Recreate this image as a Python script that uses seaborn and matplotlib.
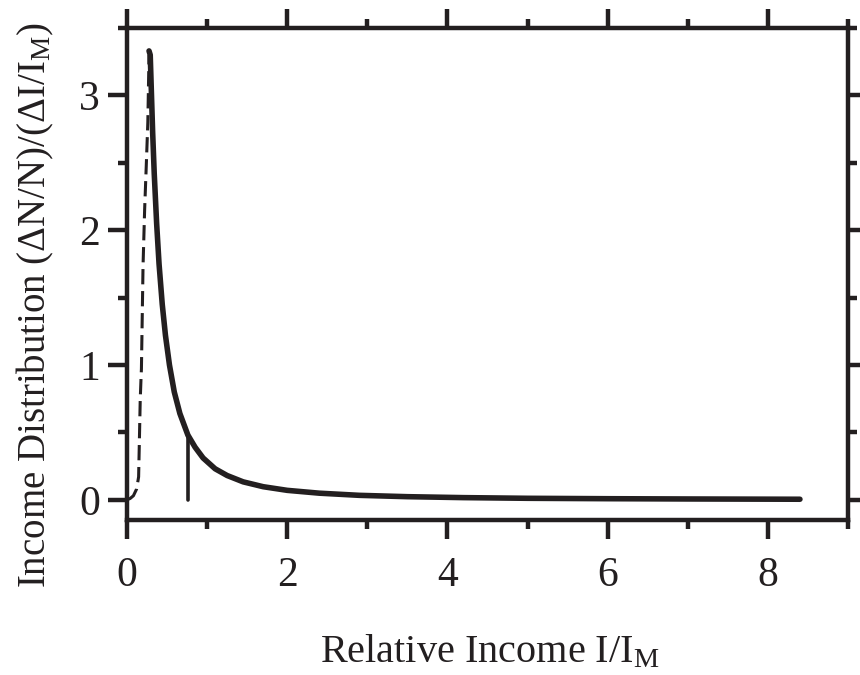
import matplotlib
matplotlib.use("Agg")
import matplotlib.pyplot as plt
from matplotlib.ticker import MultipleLocator
import seaborn as sns
import pandas as pd

# Pareto-like tail (solid)
tail_x = [0.275, 0.29, 0.30, 0.32, 0.34, 0.37, 0.40, 0.44, 0.48, 0.53, 0.59, 0.66, 0.76,
          0.85, 0.95, 1.10, 1.25, 1.45, 1.70, 2.00, 2.40, 2.90, 3.50, 4.20, 5.00, 6.00, 7.00, 8.40]
tail_y = [3.33, 3.30, 3.11, 2.73, 2.42, 2.05, 1.75, 1.45, 1.22, 1.00, 0.80, 0.64, 0.48,
          0.39, 0.31, 0.23, 0.18, 0.133, 0.097, 0.070, 0.049, 0.033, 0.023, 0.016, 0.011, 0.008, 0.006, 0.004]

# Rising low-income part (dashed)
rise_x = [0.00, 0.04, 0.08, 0.12, 0.145, 0.155, 0.165, 0.175, 0.18, 0.20, 0.22, 0.24, 0.26, 0.275]
rise_y = [0.00, 0.01, 0.03, 0.08, 0.17, 0.45, 0.74, 0.90, 0.97, 1.73, 2.15, 2.47, 2.80, 3.30]

# Vertical marker
mark_x = [0.76, 0.76]
mark_y = [0.0, 0.48]

sns.set_theme(style="ticks")
plt.rcParams["font.family"] = ["Liberation Serif", "DejaVu Serif"]
plt.rcParams["mathtext.fontset"] = "custom"
plt.rcParams["mathtext.rm"] = "Liberation Serif"
plt.rcParams["mathtext.it"] = "Liberation Serif:italic"
plt.rcParams["mathtext.default"] = "rm"

fig = plt.figure(figsize=(8.6, 6.75), dpi=100)
ax = fig.add_axes([127/860, 1 - 520/675, (848 - 127)/860, (520 - 28)/675])

col = "#231f20"
df_tail = pd.DataFrame({"x": tail_x, "y": tail_y})
df_rise = pd.DataFrame({"x": rise_x, "y": rise_y})
df_mark = pd.DataFrame({"x": mark_x, "y": mark_y})

sns.lineplot(data=df_rise, x="x", y="y", ax=ax, color=col, lw=2.2, sort=False,
             estimator=None, linestyle=(0, (5, 2.2)))
sns.lineplot(data=df_tail, x="x", y="y", ax=ax, color=col, lw=4.0, sort=False,
             estimator=None)
sns.lineplot(data=df_mark, x="x", y="y", ax=ax, color=col, lw=2.6, sort=False,
             estimator=None)

ax.set_xlim(0, 9)
ax.set_ylim(-0.15, 3.5)
ax.xaxis.set_major_locator(MultipleLocator(2))
ax.xaxis.set_minor_locator(MultipleLocator(1))
ax.yaxis.set_major_locator(MultipleLocator(1))
ax.yaxis.set_minor_locator(MultipleLocator(0.5))

for s in ax.spines.values():
    s.set_visible(True)
    s.set_linewidth(3.2)
    s.set_color(col)

ax.tick_params(which="major", direction="out", length=13.5, width=3.2, color=col,
               top=True, right=True, bottom=True, left=True,
               labelsize=30, labelcolor=col, pad=6)
ax.tick_params(which="minor", direction="out", length=6.5, width=3.2, color=col,
               top=True, right=True, bottom=True, left=True)
ax.tick_params(axis="x", which="major", pad=13)

ax.set_xlabel("Relative Income I/I$_\\mathrm{M}$", fontsize=29, color=col)
ax.set_ylabel("Income Distribution (\u0394N/N)/(\u0394I/I$_\\mathrm{M}$)", fontsize=28,
              color=col)
ax.xaxis.set_label_coords(0.503, -0.231)
ax.yaxis.set_label_coords(-0.098, 0.437)

fig.savefig("out.png", dpi=100)
